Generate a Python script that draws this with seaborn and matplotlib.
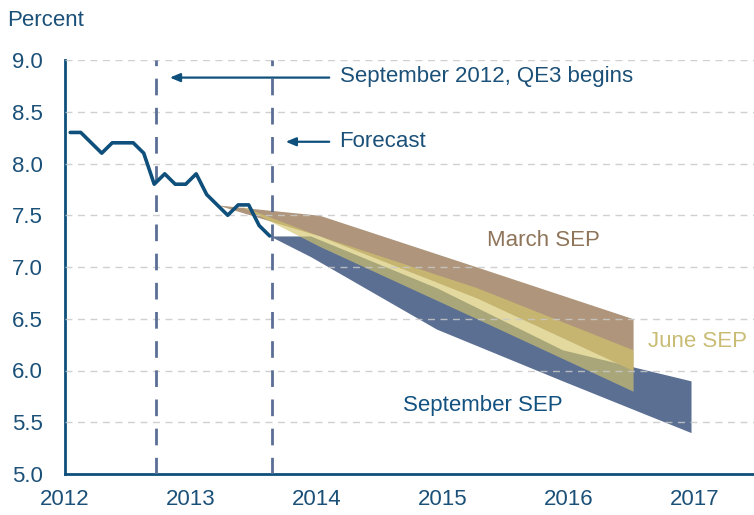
import numpy as np
import pandas as pd
import matplotlib
matplotlib.use("Agg")
import matplotlib.pyplot as plt
import seaborn as sns

# ---------------- data ----------------
months = pd.date_range("2012-01-01", periods=20, freq="MS")
unemployment = [8.3, 8.3, 8.2, 8.1, 8.2, 8.2, 8.2, 8.1, 7.8, 7.9,
                7.8, 7.8, 7.9, 7.7, 7.6, 7.5, 7.6, 7.6, 7.4, 7.3]

march_x = [2013.208, 2014.02, 2015.27, 2016.51]
march_hi = [7.6, 7.5, 7.0, 6.5]
march_lo = [7.6, 7.3, 6.7, 6.0]

june_x = [2013.375, 2014.02, 2015.27, 2016.51]
june_hi = [7.6, 7.3, 6.8, 6.2]
june_lo = [7.6, 7.2, 6.5, 5.8]

sept_x = [2013.625, 2013.95, 2014.95, 2015.95, 2016.97]
sept_hi = [7.3, 7.3, 6.8, 6.2, 5.9]
sept_lo = [7.3, 7.1, 6.4, 5.9, 5.4]

events_x = [2012.72, 2013.64]
year_ticks = [2012, 2013, 2014, 2015, 2016, 2017]
y_ticks = [5.0, 5.5, 6.0, 6.5, 7.0, 7.5, 8.0, 8.5, 9.0]

# ---------------- style ----------------
sns.set_style("white")
plt.rcParams["font.family"] = ["Liberation Sans", "DejaVu Sans"]

NAVY = "#0f4f7b"
TXT = "#1b5078"
BLUE = "#5b6f93"
BROWN = "#ae957b"
YELLOW = "#d4c66c"

fig = plt.figure(figsize=(7.54, 5.15), dpi=100)
ax = fig.add_axes([65 / 754, 41 / 515, 1 - 65 / 754, (474 - 60) / 515])

dec_x = months.year + (months.month - 0.5) / 12
df = pd.DataFrame({"x": dec_x, "rate": unemployment})

# bands
ax.fill_between(sept_x, sept_lo, sept_hi, color=BLUE, lw=0, zorder=1)
ax.fill_between(march_x, march_lo, march_hi, color=BROWN, lw=0, zorder=2)
ax.fill_between(june_x, june_lo, june_hi, color=YELLOW, alpha=0.65, lw=0, zorder=3)

# grid lines
for yv in y_ticks[1:]:
    ax.axhline(yv, color="#c8c8c8", lw=1.0, ls=(0, (5, 4)), alpha=0.85, zorder=4)

# event lines
for ex in events_x:
    ax.axvline(ex, color="#5a6e96", lw=2.0, ls=(0, (6, 4.5)), zorder=5)

sns.lineplot(data=df, x="x", y="rate", color=NAVY, lw=2.6, ax=ax, zorder=6)

ax.set_xlim(2012, 2017.47)
ax.set_ylim(5.0, 9.0)
ax.set_xticks(year_ticks)
ax.set_xticklabels([str(y) for y in year_ticks])
ax.set_yticks(y_ticks)
ax.set_yticklabels([f"{v:.1f}" for v in y_ticks])
ax.set_xlabel("")
ax.set_ylabel("")

for s in ["top", "right"]:
    ax.spines[s].set_visible(False)
for s in ["left", "bottom"]:
    ax.spines[s].set_color(NAVY)
    ax.spines[s].set_linewidth(2.0)
ax.tick_params(axis="both", direction="in", length=5, width=1, color=NAVY,
               labelcolor=TXT, labelsize=16)
ax.tick_params(axis="y", pad=16)
ax.tick_params(axis="x", pad=11)

# annotations
ax.annotate("", xy=(2012.81, 8.83), xytext=(2014.12, 8.83),
            arrowprops=dict(arrowstyle="-|>,head_length=0.6,head_width=0.25",
                            color=NAVY, lw=1.6), zorder=7)
ax.text(2014.18, 8.84, "September 2012, QE3 begins", color=TXT, fontsize=16,
        va="center", ha="left")
ax.annotate("", xy=(2013.73, 8.21), xytext=(2014.12, 8.21),
            arrowprops=dict(arrowstyle="-|>,head_length=0.6,head_width=0.25",
                            color=NAVY, lw=1.6), zorder=7)
ax.text(2014.18, 8.21, "Forecast", color=TXT, fontsize=16, va="center", ha="left")

ax.text(2015.35, 7.26, "March SEP", color="#8e7459", fontsize=16, va="center", ha="left")
ax.text(2016.63, 6.285, "June SEP", color="#c9bc74", fontsize=16, va="center", ha="left")
ax.text(2014.68, 5.66, "September SEP", color="#125180", fontsize=16, va="center", ha="left")

fig.text(7 / 754, 1 - 20 / 515, "Percent", color=TXT, fontsize=16, va="center", ha="left")

fig.savefig("out.png", dpi=100)
